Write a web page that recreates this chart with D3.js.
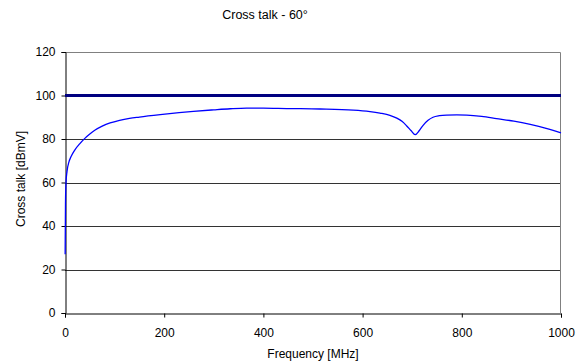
<!DOCTYPE html>
<html>
<head>
<meta charset="utf-8">
<script src="https://cdn.jsdelivr.net/npm/d3@7"></script>
<style>
  body { margin: 0; background: #fff; }
  svg { font-family: "Liberation Sans", Arial, sans-serif; }
</style>
</head>
<body>
<svg width="581" height="362"></svg>
<script>
// frequency [MHz] and cross talk [dBmV]
const freq = [0.3, 1, 2, 4, 8, 12, 20, 30, 40, 50, 60, 75, 91, 110, 130, 150, 192, 230, 259, 300,
  333, 366, 400, 447, 514, 581, 615, 635, 655, 669, 680, 689, 698, 706, 714, 722, 732, 742, 755,
  769, 790, 810, 840, 870, 905, 938, 970, 1000];
const crosstalk = [27, 50, 60, 65, 69.5, 71.8, 75, 77.9, 80.3, 82.3, 84.0, 85.9, 87.4, 88.6, 89.5,
  90.1, 91.2, 92.1, 92.7, 93.4, 93.9, 94.2, 94.2, 94.0, 93.8, 93.3, 92.6, 91.9, 90.9, 89.6, 88.0,
  86.0, 83.8, 82.0, 83.8, 86.3, 88.6, 90.0, 90.7, 91.0, 91.1, 91.0, 90.4, 89.4, 88.2, 86.7, 84.9,
  82.8];
const limitFreq = [0, 200, 400, 600, 800, 1000];
const limit = [100, 100, 100, 100, 100, 100];
const xTicks = [0, 200, 400, 600, 800, 1000];
const yTicks = [0, 20, 40, 60, 80, 100, 120];

const svg = d3.select('svg');
const plotLeft = 65, plotRight = 561, plotTop = 52, plotBottom = 313;

const x = d3.scaleLinear().domain([0, 1000]).range([plotLeft, plotRight]);
const y = d3.scaleLinear().domain([0, 120]).range([plotBottom, plotTop]);

// title
svg.append('text')
  .attr('x', 265).attr('y', 19)
  .attr('text-anchor', 'middle')
  .attr('font-size', 12.5)
  .text('Cross talk - 60°');

// gridlines
svg.append('g')
  .selectAll('line')
  .data(yTicks.filter(d => d > 0 && d < 120))
  .enter()
  .append('line')
  .attr('x1', plotLeft).attr('x2', plotRight)
  .attr('y1', d => Math.round(y(d)) + 0.5)
  .attr('y2', d => Math.round(y(d)) + 0.5)
  .attr('stroke', '#333')
  .attr('stroke-width', 1);

// top and right frame
svg.append('path')
  .attr('d', `M${plotLeft},${Math.round(plotTop) + 0.5}H${plotRight - 0.5}V${plotBottom}`)
  .attr('fill', 'none')
  .attr('stroke', '#808080');

// axes
const xAxis = d3.axisBottom(x).tickValues(xTicks).tickFormat(d3.format('d'))
  .tickSize(4).tickPadding(11);
const yAxis = d3.axisLeft(y).tickValues(yTicks).tickSize(4).tickPadding(6);

const gx = svg.append('g')
  .attr('transform', `translate(0,${Math.round(plotBottom) + 0.5})`)
  .call(xAxis);
const gy = svg.append('g')
  .attr('transform', `translate(${plotLeft + 0.5},0)`)
  .call(yAxis);

[gx, gy].forEach(g => {
  g.attr('font-family', '"Liberation Sans", Arial, sans-serif').attr('font-size', 12);
  g.selectAll('text').attr('fill', '#000');
  g.selectAll('line').attr('stroke', '#000');
  g.select('.domain').attr('stroke', '#000');
});

// axis titles
svg.append('text')
  .attr('x', 313).attr('y', 358)
  .attr('text-anchor', 'middle')
  .attr('font-size', 12)
  .text('Frequency [MHz]');

svg.append('text')
  .attr('transform', 'translate(25,179) rotate(-90)')
  .attr('text-anchor', 'middle')
  .attr('font-size', 12)
  .text('Cross talk [dBmV]');

const line = d3.line()
  .x(d => x(d[0]))
  .y(d => y(d[1]))
  .curve(d3.curveMonotoneX);

// limit line at 100
svg.append('path')
  .datum(limitFreq.map((f, i) => [f, limit[i]]))
  .attr('d', line)
  .attr('fill', 'none')
  .attr('stroke', '#000080')
  .attr('stroke-width', 3);

// measured curve
svg.append('path')
  .datum(freq.map((f, i) => [f, crosstalk[i]]))
  .attr('d', line)
  .attr('fill', 'none')
  .attr('stroke', '#0000ff')
  .attr('stroke-width', 1.3);
</script>
</body>
</html>
